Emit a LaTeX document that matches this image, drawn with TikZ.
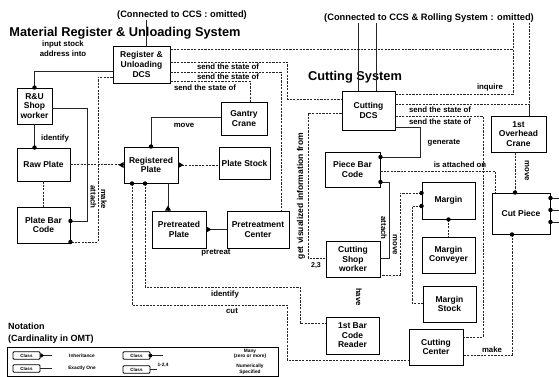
\documentclass[tikz,border=0pt]{standalone}
\usepackage{fontspec}
\setmainfont{Liberation Sans}
\newcommand\mkdot[1]{\fill #1 circle (2.2pt);}
\begin{document}
\begin{tikzpicture}[x=1pt,y=-1pt,
  cls/.style={draw, line width=0.9pt, align=center, inner sep=0pt, font=\fontsize{8.5}{9.6}\selectfont\bfseries},
  lab/.style={font=\fontsize{7.8}{9}\selectfont\bfseries, inner sep=0pt, align=center},
  ttl/.style={font=\fontsize{12.8}{14}\selectfont\bfseries, inner sep=0pt},
  sub/.style={font=\fontsize{9.3}{11}\selectfont\bfseries, inner sep=0pt},
  ln/.style={line width=0.55pt, draw=black!85},
  dl/.style={ln, dash pattern=on 2.2pt off 1.2pt},
  lcls/.style={draw, line width=0.8pt, rounded corners=1pt, minimum width=27pt, minimum height=7.5pt, inner sep=0pt, font=\fontsize{4.5}{5}\selectfont\bfseries},
  ltx/.style={font=\fontsize{4.8}{5.6}\selectfont\bfseries, inner sep=0pt, align=center},
]
\useasboundingbox (0,0) rectangle (559,377);

% titles
\node[sub] (ccs1) at (182,15) {(Connected to CCS : omitted)};
\node[ttl] (ttl1) at (125,33) {Material Register \& Unloading System};
\node[sub] (ccs2) at (429,18) {(Connected to CCS \& Rolling System : omitted)};
\node[ttl] (ttl2) at (355,77) {Cutting System};

% boxes
\node[cls,minimum width=57pt,minimum height=37pt] (rudcs) at (141.5,64.5) {Register \&\\Unloading\\DCS};
\node[cls,minimum width=35pt,minimum height=36pt] (ruw) at (34.5,106) {R\&U\\Shop\\worker};
\node[cls,minimum width=46pt,minimum height=33pt] (gantry) at (244,118.5) {Gantry\\Crane};
\node[cls,minimum width=54pt,minimum height=36pt] (regplate) at (151,165) {Registered\\Plate};
\node[cls,minimum width=51pt,minimum height=32pt] (platestock) at (244.5,163) {Plate Stock};
\node[cls,minimum width=53pt,minimum height=33pt] (rawplate) at (43.5,164.5) {Raw Plate};
\node[cls,minimum width=53pt,minimum height=36pt] (pbc) at (43.5,225) {Plate Bar\\Code};
\node[cls,minimum width=54pt,minimum height=37pt] (pretplate) at (179,229.5) {Pretreated\\Plate};
\node[cls,minimum width=62pt,minimum height=37pt] (pretcenter) at (258,229.5) {Pretreatment\\Center};
\node[cls,minimum width=53pt,minimum height=39pt] (cutdcs) at (368.5,110.5) {Cutting\\DCS};
\node[cls,minimum width=55pt,minimum height=36pt] (crane1) at (518.5,134) {1st\\Overhead\\Crane};
\node[cls,minimum width=55pt,minimum height=35pt] (piecebc) at (352.5,169.5) {Piece Bar\\Code};
\node[cls,minimum width=53pt,minimum height=37pt] (margin) at (448.5,200.5) {Margin};
\node[cls,minimum width=58pt,minimum height=41pt] (cutpiece) at (521,213.5) {Cut Piece};
\node[cls,minimum width=53pt,minimum height=36pt] (marginconv) at (448.5,255) {Margin\\Conveyer};
\node[cls,minimum width=54pt,minimum height=36pt] (cutshopw) at (353,259) {Cutting\\Shop\\worker};
\node[cls,minimum width=53pt,minimum height=36pt] (marginstock) at (449.5,304) {Margin\\Stock};
\node[cls,minimum width=53pt,minimum height=37pt] (bcr) at (352.5,335.5) {1st Bar\\Code\\Reader};
\node[cls,minimum width=54pt,minimum height=36pt] (cutcenter) at (436,347) {Cutting\\Center};

% ---- Material Register & Unloading ----
\draw[ln] (ccs1.south -| 146,0) -- (rudcs.north -| 146,0);
\draw[ln] (rudcs.west |- 0,71) -| (ruw.north);
\mkdot{(ruw.north)}
\node[lab] (l1) at (63,49) {input stock\\[1pt]address into};

\draw[dl] (rudcs.west |- 0,77) -- (98,77) |- (pbc.east |- 0,242);
\mkdot{(pbc.east |- 0,242)}
\draw[ln] (ruw.east |- 0,108) -- (87,108) |- (pbc.east |- 0,221);
\mkdot{(pbc.east |- 0,221)}
\node[lab, rotate=-90] (l2) at (93.5,197) {attach};
\node[lab, rotate=-90] (l3) at (104,199) {make};

\draw[ln] (ruw.south) -- (rawplate.north -| ruw.south);
\mkdot{(rawplate.north -| ruw.south)}
\node[lab] (l4) at (55,138) {identify};

\draw[dl] (rawplate.east) -- (regplate.west |- rawplate.east);
\fill (regplate.west) ++(0,-3) -- ++(-5,3) -- ++(5,3) -- cycle;
\draw[dl] (rawplate.south) -- (pbc.north);

\draw[ln] (gantry.west |- 0,117) -| (regplate.north);
\mkdot{(regplate.north)}
\node[lab] (l5) at (184,125) {move};

\draw[dl] (rudcs.east |- 0,49) -- (513,49);
\draw[dl] (rudcs.east |- 0,62) -| (287,99) -- (cutdcs.west |- 0,99);
\node[lab] (l6) at (228,66.5) {send the state of};
\draw[dl] (rudcs.east |- 0,72) -| (pretcenter.north -| 281,0);
\node[lab] (l7) at (228,76.5) {send the state of};
\draw[dl] (rudcs.east |- 0,81) -| (gantry.north -| 250,0);
\node[lab] (l8) at (205,88) {send the state of};

\draw[dl] (regplate.east) -- (platestock.west |- regplate.east);
\fill (regplate.east) ++(0,-3) -- ++(5,3) -- ++(-5,3) -- cycle;

\draw[ln] (regplate.south -| 168,0) -- (pretplate.north -| 168,0);
\fill (pretplate.north -| 168,0) ++(-3,0) -- ++(3,-5) -- ++(3,5) -- cycle;
\draw[ln] (pretplate.east) -- (pretcenter.west);
\fill (pretplate.east) ++(0,-3) -- ++(5,3) -- ++(-5,3) -- cycle;
\node[lab] (l9) at (216,253) {pretreat};

\draw[dl] (regplate.south -| 145,0) |- (300,287) |- (bcr.west |- 0,323);
\mkdot{(regplate.south -| 145,0)}
\node[lab] (l10) at (225,294) {identify};
\draw[dl] (regplate.south -| 132,0) |- (287,305) |- (cutcenter.west |- 0,360);
\mkdot{(regplate.south -| 132,0)}
\node[lab] (l11) at (232,311) {cut};

% ---- Cutting system ----
\draw[ln] (ccs2.south -| 358,0) -- (cutdcs.north -| 358,0);
\draw[ln] (ccs2.south -| 376,0) -- (cutdcs.north -| 376,0);
\draw[dl] (ccs2.south -| 529,0) -- (crane1.north -| 529,0);
\draw[dl] (cutdcs.east |- 0,94) -| (ccs2.south -| 513,0);
\node[lab] (l12) at (490,87) {inquire};
\draw[dl] (cutdcs.east |- 0,104) -| (crane1.north -| 529,0);
\node[lab] (l13) at (440,110) {send the state of};
\draw[dl] (cutdcs.east |- 0,116) -| (483,337) -- (cutcenter.east |- 0,337);
\node[lab] (l14) at (440,121.5) {send the state of};
\draw[ln] (cutdcs.east |- 0,127) -| (420,157) -- (piecebc.east |- 0,157);
\mkdot{(piecebc.east |- 0,157)}
\node[lab] (l15) at (444,143) {generate};

\draw[dl] (piecebc.east |- 0,171) -| (cutpiece.north -| 495,0);
\node[lab] (l16) at (460,165) {is attached on};
\draw[dl] (crane1.south -| 515,0) -- (cutpiece.north -| 515,0);
\mkdot{(cutpiece.north -| 515,0)}
\node[lab, rotate=-90] (l17) at (527,171) {move};

\draw[dl] (cutdcs.west |- 0,113) -| (308,258) -- (cutshopw.west |- 0,258);
\node[lab, rotate=90, font=\fontsize{8.5}{10}\selectfont\bfseries] (l18) at (301,196) {get visualized information from};
\node[lab, font=\fontsize{7}{8}\selectfont\bfseries] (l19) at (316,266) {2,3};

\draw[ln] (piecebc.east |- 0,182) -| (389,258) -- (cutshopw.east |- 0,258);
\mkdot{(piecebc.east |- 0,182)}
\node[lab, rotate=-90] (l20) at (384,228) {attach};

\draw[dl] (margin.west |- 0,193) -| (400,275) -- (cutshopw.east |- 0,275);
\mkdot{(margin.west |- 0,193)}
\node[lab, rotate=-90] (l21) at (395,245) {move};

\draw[dl] (margin.west |- 0,206) -| (412,303) -- (marginstock.west |- 0,303);
\mkdot{(margin.west |- 0,206)}
\draw[dl] (margin.south) -- (marginconv.north);
\mkdot{(margin.south)}

\draw[dl] (cutpiece.south -| 512,0) |- (cutcenter.east |- 0,355);
\mkdot{(cutpiece.south -| 512,0)}
\node[lab] (l22) at (492,350) {make};

\coordinate (e1) at (559,198);
\coordinate (e2) at (559,210);
\coordinate (e3) at (559,222);
\draw[ln] (cutpiece.east |- e1) -- (e1);
\draw[ln] (cutpiece.east |- e2) -- (e2);
\draw[ln] (cutpiece.east |- e3) -- (e3);
\mkdot{(cutpiece.east |- e1)}
\mkdot{(cutpiece.east |- e2)}
\mkdot{(cutpiece.east |- e3)}

\node[lab, rotate=-90] (l23) at (359,297) {have};

% ---- Notation ----
\node[lab, anchor=west, font=\fontsize{9}{10}\selectfont\bfseries] (nt1) at (8,326) {Notation};
\node[lab, anchor=west, font=\fontsize{9}{10}\selectfont\bfseries] (nt2) at (8,339) {(Cardinality in OMT)};
\node[draw, line width=0.9pt, minimum width=271pt, minimum height=29pt, inner sep=0pt] (legend) at (142.5,361.5) {};

\node[lcls] (lc1) at (26.5,355.5) {Class};
\coordinate (lq1) at (52,355.5);
\draw[ln] (lc1.east) -- (lq1);
\fill (lc1.east) ++(0,-2.5) -- ++(4,2.5) -- ++(-4,2.5) -- cycle;
\node[ltx] (lt1) at (82,355.5) {Inheritance};

\node[lcls] (lc2) at (136.5,355.5) {Class};
\coordinate (lq2) at (163,355.5);
\draw[ln] (lc2.east) -- (lq2);
\fill (lc2.east) circle (2pt);
\node[ltx] (lt2) at (250,354) {Many\\(zero or more)};

\node[lcls] (lc3) at (26.5,368.5) {Class};
\coordinate (lq3) at (52,368.5);
\draw[ln] (lc3.east) -- (lq3);
\node[ltx] (lt3) at (82,368.5) {Exactly One};

\node[lcls] (lc4) at (136.5,369.5) {Class};
\coordinate (lq4) at (157,369.5);
\draw[ln] (lc4.east) -- (lq4);
\node[ltx] (lt4) at (163,365) {1-2,4};
\node[ltx] (lt5) at (250,369.5) {Numerically\\Specified};
\end{tikzpicture}
\end{document}
